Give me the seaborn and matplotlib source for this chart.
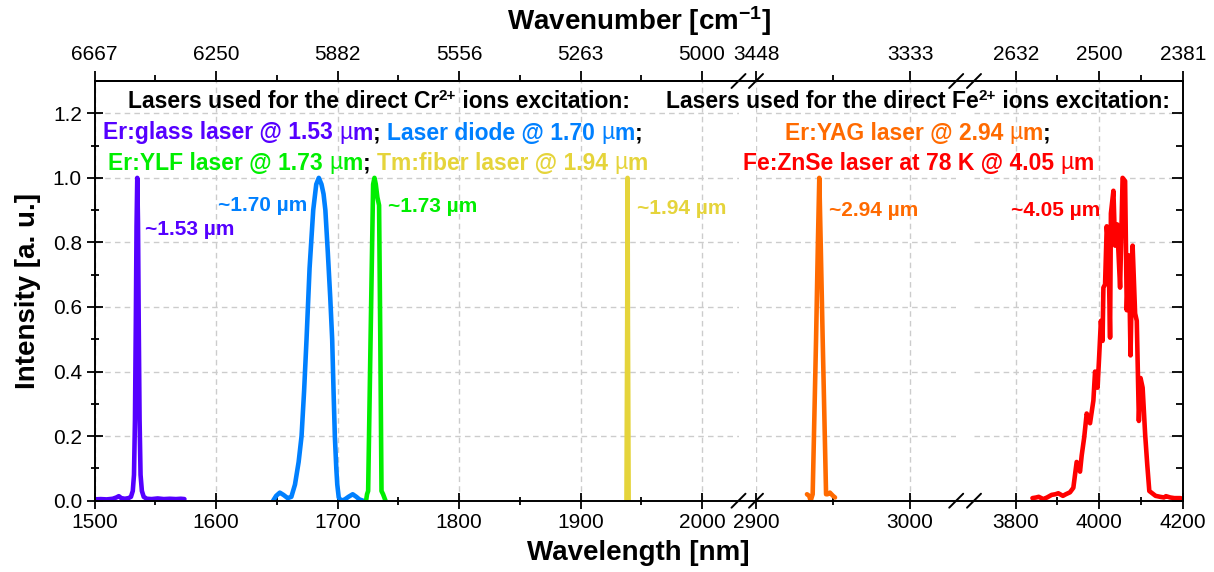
import matplotlib
matplotlib.use("Agg")
import matplotlib.pyplot as plt
import seaborn as sns
from matplotlib.lines import Line2D
from matplotlib.text import Annotation

# ---------------- spectra: wavelength [nm] and normalised intensity ----------------
erglass_nm = [1500, 1505, 1510, 1515, 1518, 1520, 1522, 1525, 1528, 1530, 1531.5, 1532.5,
              1533.3, 1534.0, 1534.6, 1535.2, 1535.8, 1536.4, 1537.1, 1537.9, 1539.0, 1540.5,
              1543, 1547, 1552, 1557, 1562, 1567, 1571, 1574]
erglass_int = [0.004, 0.005, 0.004, 0.006, 0.010, 0.014, 0.008, 0.006, 0.008, 0.012, 0.030, 0.080,
               0.250, 0.550, 0.850, 1.000, 0.860, 0.550, 0.250, 0.080, 0.030, 0.012,
               0.006, 0.005, 0.007, 0.005, 0.006, 0.005, 0.006, 0.005]

diode_nm = [1647, 1649.5, 1652.5, 1655.5, 1659, 1662, 1665, 1668, 1670.4, 1672.5, 1674.5, 1677,
            1680, 1682.5, 1684.6, 1686.8, 1688.5, 1690, 1692, 1694, 1695.6, 1696.8, 1697.8,
            1699, 1699.8, 1701, 1703, 1706, 1709, 1712.5, 1715.5, 1718, 1721]
diode_int = [0.000, 0.015, 0.025, 0.018, 0.008, 0.012, 0.050, 0.120, 0.200, 0.340, 0.500, 0.720,
             0.900, 0.980, 1.000, 0.980, 0.950, 0.900, 0.770, 0.630, 0.500, 0.330, 0.200,
             0.100, 0.050, 0.010, 0.000, 0.004, 0.012, 0.020, 0.012, 0.004, 0.000]

erylf_nm = [1723.5, 1724.3, 1725.2, 1727.2, 1729.3, 1730.4, 1731.5, 1732.8, 1734.2, 1735.2,
            1736.2, 1737.5, 1739.5]
erylf_int = [0.000, 0.020, 0.030, 0.500, 0.980, 1.000, 0.980, 0.940, 0.915, 0.500,
             0.030, 0.020, 0.000]

tmfiber_nm = [1937.8, 1938.4, 1938.7, 1939.0, 1939.6]
tmfiber_int = [0.000, 0.550, 1.000, 0.550, 0.000]

eryag_nm = [2933.1, 2934.5, 2935.5, 2936.8, 2939.0, 2940.2, 2941.1, 2942.0, 2943.3, 2945.5,
            2946.5, 2948.0, 2950.0, 2951.3]
eryag_int = [0.020, 0.015, 0.000, 0.020, 0.500, 0.800, 1.000, 0.800, 0.500, 0.020,
             0.020, 0.025, 0.015, 0.010]

fezns_nm = [3840, 3849, 3855, 3866, 3875, 3886, 3895, 3902, 3913, 3920, 3930, 3938, 3946, 3954,
            3958, 3964, 3970, 3978, 3986, 3990, 3996, 4000, 4004, 4008, 4010, 4014, 4018, 4022,
            4026, 4028, 4034, 4038, 4043, 4050, 4056, 4062, 4066, 4071, 4075, 4080, 4086, 4090,
            4095, 4099, 4104, 4110, 4115, 4120, 4125, 4130, 4135, 4146, 4155, 4160, 4170, 4180,
            4194, 4200]
fezns_int = [0.008, 0.010, 0.012, 0.005, 0.010, 0.018, 0.020, 0.023, 0.015, 0.020, 0.026, 0.040,
             0.120, 0.090, 0.140, 0.196, 0.270, 0.240, 0.310, 0.400, 0.350, 0.450, 0.557, 0.495,
             0.660, 0.670, 0.850, 0.790, 0.505, 0.890, 0.960, 0.790, 0.856, 0.660, 1.000, 0.990,
             0.590, 0.760, 0.450, 0.790, 0.580, 0.557, 0.247, 0.380, 0.350, 0.206, 0.113, 0.030,
             0.025, 0.020, 0.015, 0.012, 0.010, 0.014, 0.010, 0.008, 0.008, 0.006]

# ---------------- axis layout ----------------
segment_limits = [(1500, 2030), (2900, 3030), (3700, 4200)]
segment_major = [[1500, 1600, 1700, 1800, 1900, 2000], [2900, 3000], [3800, 4000, 4200]]
segment_minor = [[1550, 1650, 1750, 1850, 1950], [2950], [3900, 4100]]
wavenumber_labels = [["6667", "6250", "5882", "5556", "5263", "5000"],
                     ["3448", "3333"],
                     ["2632", "2500", "2381"]]
y_major = [0.0, 0.2, 0.4, 0.6, 0.8, 1.0, 1.2]
y_minor = [0.1, 0.3, 0.5, 0.7, 0.9, 1.1]

PURPLE = "#5500FF"
BLUE = "#0080FF"
GREEN = "#00EE00"
YELLOW = "#E5D43B"
ORANGE = "#FF6A00"
RED = "#FF0000"

sns.set_theme(style="ticks")
plt.rcParams.update({
    "font.family": ["Liberation Sans", "DejaVu Sans"],
    "mathtext.fontset": "custom",
    "mathtext.rm": "Liberation Sans",
    "mathtext.bf": "Liberation Sans:bold",
    "mathtext.it": "Liberation Sans:italic",
    "axes.edgecolor": "black",
    "xtick.color": "black",
    "ytick.color": "black",
    "text.color": "black",
    "axes.labelcolor": "black",
})

W, H = 1214, 572
fig = plt.figure(figsize=(W / 100, H / 100), dpi=100)

# pixel geometry of the plotting frame
y_bot_px, y_top_px = 500.7, 81.0
seg_px = [(94.5, 738.5), (756.0, 956.2), (974.0, 1182.7)]


def fx(px):
    return px / W


def fy(py):
    return 1 - py / H


axes = []
for i, ((lo, hi), (x0, x1)) in enumerate(zip(segment_limits, seg_px)):
    ax = fig.add_axes([fx(x0), fy(y_bot_px), (x1 - x0) / W, (y_bot_px - y_top_px) / H])
    ax.set_xlim(lo, hi)
    ax.set_ylim(0, 1.3)
    ax.set_xticks(segment_major[i])
    ax.set_xticks(segment_minor[i], minor=True)
    ax.set_yticks(y_major)
    ax.set_yticks(y_minor, minor=True)
    ax.set_yticklabels([f"{v:.1f}" for v in y_major])
    ax.grid(which="major", axis="both", linestyle=(0, (4, 3)), color="#cccccc", linewidth=1.0)
    ax.set_axisbelow(True)
    ax.tick_params(axis="x", which="major", direction="inout", length=12, width=1.3,
                   labelsize=15, pad=3, top=False)
    ax.tick_params(axis="x", which="minor", direction="inout", length=6, width=1.3, top=False)
    for s in ax.spines.values():
        s.set_linewidth(1.4)
    sec = ax.secondary_xaxis("top")
    sec.set_xticks(segment_major[i], labels=wavenumber_labels[i])
    sec.set_xticks(segment_minor[i], minor=True)
    sec.tick_params(which="major", direction="out", length=7, width=1.3, labelsize=15, pad=5)
    sec.tick_params(which="minor", direction="out", length=4, width=1.3)
    sec.spines["top"].set_linewidth(1.4)
    axes.append(ax)

ax1, ax2, ax3 = axes
ax1.spines["right"].set_visible(False)
ax2.spines["left"].set_visible(False)
ax2.spines["right"].set_visible(False)
ax3.spines["left"].set_visible(False)

ax1.tick_params(axis="y", which="major", direction="inout", length=12, width=1.3,
                labelsize=15, pad=3, left=True, right=False)
ax1.tick_params(axis="y", which="minor", direction="inout", length=6, width=1.3,
                left=True, right=False)
ax2.tick_params(axis="y", which="both", left=False, right=False, labelleft=False)
ax3.tick_params(axis="y", which="major", direction="in", length=8, width=1.3,
                left=False, right=True, labelleft=False)
ax3.tick_params(axis="y", which="minor", direction="in", length=5, width=1.3,
                left=False, right=True)

# ---------------- spectra ----------------
for nm, inten, col, ax in [
    (erglass_nm, erglass_int, PURPLE, ax1),
    (diode_nm, diode_int, BLUE, ax1),
    (erylf_nm, erylf_int, GREEN, ax1),
    (tmfiber_nm, tmfiber_int, YELLOW, ax1),
    (eryag_nm, eryag_int, ORANGE, ax2),
    (fezns_nm, fezns_int, RED, ax3),
]:
    sns.lineplot(x=nm, y=inten, ax=ax, color=col, linewidth=3.3, estimator=None, sort=False)

for ax in axes:
    ax.set_xlabel("")
    ax.set_ylabel("")

# ---------------- axis-break decorations ----------------
for (a, b) in [(seg_px[0][1], seg_px[1][0]), (seg_px[1][1], seg_px[2][0])]:
    for yy in (y_bot_px, y_top_px):
        fig.add_artist(Line2D([fx(a), fx(b)], [fy(yy), fy(yy)], color="black", lw=1.4,
                              transform=fig.transFigure))
    for xx in (a, b):
        for yy in (y_bot_px, y_top_px):
            fig.add_artist(Line2D([fx(xx - 7), fx(xx + 7)], [fy(yy + 7), fy(yy - 7)],
                                  color="black", lw=1.4, transform=fig.transFigure))

# ---------------- titles ----------------
x_mid = fx((seg_px[0][0] + seg_px[2][1]) / 2)
fig.text(x_mid, fy(553), "Wavelength [nm]", fontsize=20, fontweight="bold",
         ha="center", va="center")
fig.text(fx(95 + (1183 - 95) / 2), fy(21), r"Wavenumber [cm$^{\mathbf{-1}}$]", fontsize=20,
         fontweight="bold", ha="center", va="center")
fig.text(fx(28), fy((y_bot_px + y_top_px) / 2), "Intensity [a. u.]", fontsize=20,
         fontweight="bold", rotation=90, ha="center", va="center")

# ---------------- peak labels ----------------
peak_style = dict(fontsize=15, fontweight="bold", ha="left", va="center")
ax1.text(1541.5, 0.84, "~1.53 µm", color=PURPLE, **peak_style)
ax1.text(1601.5, 0.915, "~1.70 µm", color=BLUE, **peak_style)
ax1.text(1741.5, 0.91, "~1.73 µm", color=GREEN, **peak_style)
ax1.text(1946.5, 0.905, "~1.94 µm", color=YELLOW, **peak_style)
ax2.text(2947.5, 0.90, "~2.94 µm", color=ORANGE, **peak_style)
ax3.text(3789.0, 0.90, "~4.05 µm", color=RED, **peak_style)

# ---------------- multi-coloured description lines ----------------
renderer = fig.canvas.get_renderer()
SIZE = 16.5


def text_line(cx_px, cy_px, pieces):
    """Pieces: (text, colour, weight, size, rise_pt). Rise is relative to the main line."""
    first = None
    prev = None
    prev_rise = 0.0
    for s, col, weight, size, rise in pieces:
        if prev is None:
            prev = fig.text(fx(cx_px), fy(cy_px), s, color=col, fontweight=weight,
                            fontsize=size, ha="left", va="center")
            first = prev
        else:
            prev = fig.add_artist(Annotation(s, xy=(1, 0), xycoords=prev,
                                             xytext=(0, rise - prev_rise),
                                             textcoords="offset points", ha="left",
                                             va="bottom", color=col, fontweight=weight,
                                             fontsize=size))
        prev_rise = rise
    x0 = first.get_window_extent(renderer).x0
    x1 = prev.get_window_extent(renderer).x1
    first.set_x(fx(cx_px - (x1 - x0) / 2))


B, N = "bold", "normal"


def plain(s, col, weight=B):
    return (s, col, weight, SIZE, 0.0)


def sup(s, col):
    return (s, col, B, 11, 7.0)


text_line(379, 101, [plain("Lasers used for the direct Cr", "black"), sup("2+", "black"),
                     plain(" ions excitation:", "black")])
text_line(373, 133, [plain("Er:glass laser @ 1.53 ", PURPLE), plain("µ", PURPLE, N),
                     plain("m", PURPLE), plain("; ", "black"),
                     plain("Laser diode @ 1.70 ", BLUE), plain("µ", BLUE, N), plain("m", BLUE),
                     plain(";", "black")])
text_line(378, 163, [plain("Er:YLF laser @ 1.73 ", GREEN), plain("µ", GREEN, N),
                     plain("m", GREEN), plain("; ", "black"),
                     plain("Tm:fiber laser @ 1.94 ", YELLOW), plain("µ", YELLOW, N),
                     plain("m", YELLOW)])
text_line(918, 101, [plain("Lasers used for the direct Fe", "black"), sup("2+", "black"),
                     plain(" ions excitation:", "black")])
text_line(918, 133, [plain("Er:YAG laser @ 2.94 ", ORANGE), plain("µ", ORANGE, N),
                     plain("m", ORANGE), plain(";", "black")])
text_line(918, 163, [plain("Fe:ZnSe laser at 78 K @ 4.05 ", RED), plain("µ", RED, N),
                     plain("m", RED)])

fig.savefig("out.png", dpi=100)
